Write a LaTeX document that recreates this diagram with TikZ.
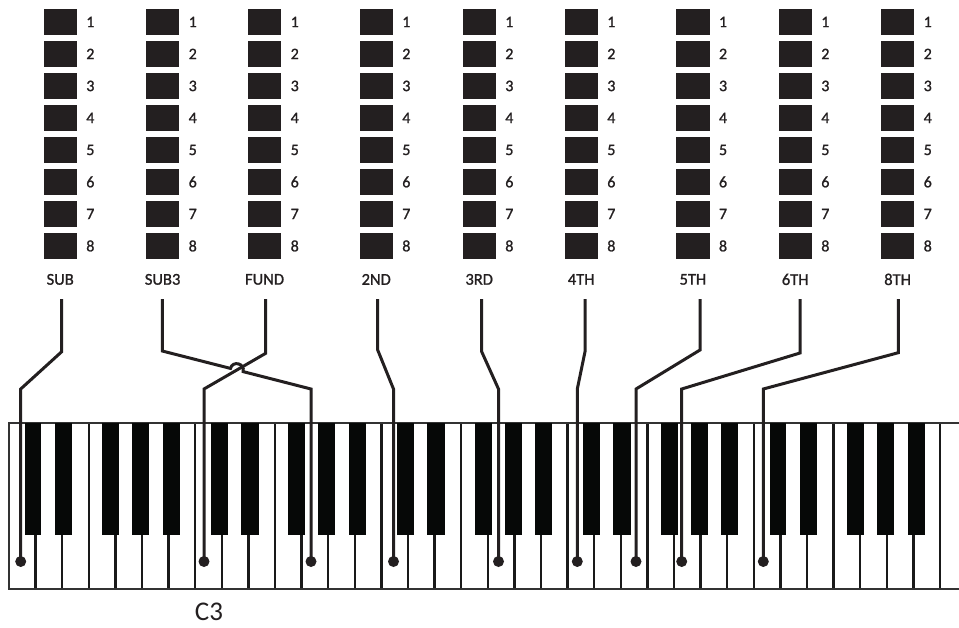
\documentclass[tikz,border=0pt]{standalone}
\usepackage{fontspec}
\setmainfont{Carlito}
\newfontfamily\barfont{Carlito}[FakeBold=1.2]
\definecolor{ink}{HTML}{231F20}
\definecolor{keyblack}{HTML}{060807}
\begin{document}
\begin{tikzpicture}[x=1pt,y=-1pt,
  bar/.style={fill=ink, minimum width=33.4pt, minimum height=25.5pt, inner sep=0pt, anchor=north west},
  num/.style={font=\barfont\fontsize{16}{16}\selectfont, text=ink, anchor=west, inner sep=0pt},
  barname/.style={font=\barfont\fontsize{16.5}{16.5}\selectfont, text=ink, inner sep=0pt},
  wire/.style={draw=ink, line width=3pt},
  keydot/.style={circle, fill=ink, minimum size=11pt, inner sep=0pt},
  keysep/.style={draw=black!90, line width=2.4pt},
  keyframe/.style={draw=black!80, line width=1.3pt},
  blackkey/.style={fill=keyblack}]
\useasboundingbox (0,0) rectangle (959,627);
\def\kw{26.6}

% drawbar columns with their eight steps
\foreach \lab/\x [count=\c] in {SUB/43.3, SUB3/145.7, FUND/247.7, 2ND/359.3, 3RD/462.3, 4TH/564.3, 5TH/676, 6TH/778.3, 8TH/880.7} {
  \foreach \r in {1,...,8} {
    \node[bar] (bar\c-\r) at (\x, {9+32*(\r-1)}) {};
    \node[num] (num\c-\r) at ([xshift=9pt]bar\c-\r.east) {\r};
  }
  \node[barname] (name\c) at ([yshift=-20.5pt]bar\c-8.south) {\lab};
}

% keyboard: white key separators, frame, black keys
\foreach \i in {1,...,35}
  \draw[keysep] ({9+\i*\kw},423) -- ({9+\i*\kw},589);
\draw[keyframe] (975,423) -- (9,423) -- (9,589) -- (975,589);
\foreach \o in {0,...,4}
  \foreach \a/\b in {0.59/1.22, 1.72/2.38, 3.50/4.14, 4.63/5.27, 5.78/6.42}
    \fill[blackkey] ({9+(\o*7+\a)*\kw},423) rectangle ({9+(\o*7+\b)*\kw},535);

\node[text=ink, font=\fontsize{27}{27}\selectfont, inner sep=0pt] (c3) at (209,612) {C3};

% key contacts and the wires leading to them
\foreach \c/\xs/\ya/\xd in {1/61.7/351.7/20.7, 2/162.3/351/311, 3/265.7/353.3/204,
    4/377.7/350/393.5, 5/481.7/351.7/498.5, 6/585/351.7/577.3, 7/700/350/636,
    8/800/353/681.7, 9/898.3/352.7/763.3} {
  \coordinate (s\c) at (\xs,299);
  \coordinate (a\c) at (\xs,\ya);
  \coordinate (b\c) at (\xd,389);
  \node[keydot] (d\c) at (\xd,561.5) {};
}
\foreach \c in {1,3,4,5,6,7,8,9}
  \draw[wire] (s\c) -- (a\c) -- (b\c) -- (d\c.center);

% SUB3 wire hops over the FUND wire
\coordinate (h1) at (230.5,368.4);
\coordinate (h2) at (243.1,371.6);
\draw[wire] (s2) -- (a2) -- (h1) .. controls (232.6,360.2) and (245.2,363.4) .. (h2) -- (b2) -- (d2.center);
\end{tikzpicture}
\end{document}
